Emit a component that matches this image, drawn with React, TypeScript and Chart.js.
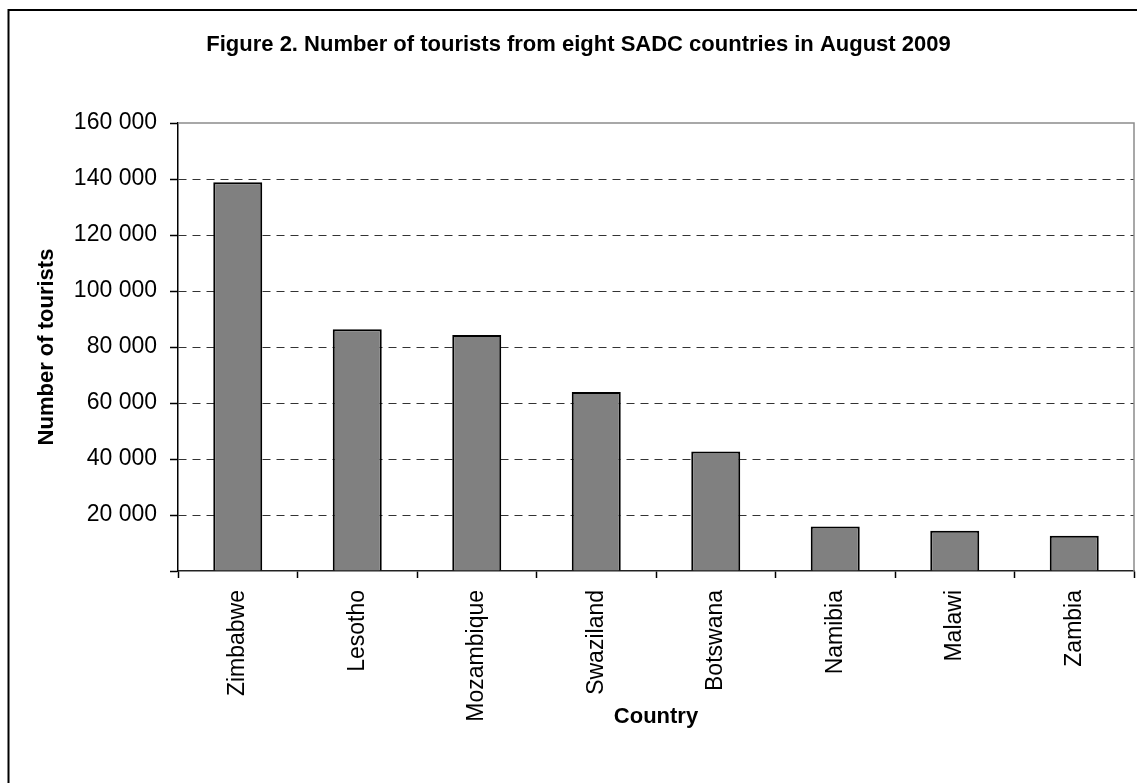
import React, { useEffect, useRef } from "react";
import { Chart, registerables } from "chart.js";

Chart.register(...registerables);

const titleText = "Figure 2. Number of tourists from eight SADC countries in August 2009";
const countries = ["Zimbabwe", "Lesotho", "Mozambique", "Swaziland", "Botswana", "Namibia", "Malawi", "Zambia"];
const tourists = [138800, 86300, 84300, 63900, 42700, 15900, 14400, 12600];
const yTitle = "Number of tourists";
const xTitle = "Country";
const yMax = 160000;
const yStep = 20000;

const FONT = "'Liberation Sans', Arial, sans-serif";

const frames = {
  id: "frames",
  beforeDraw(chart: any) {
    const { ctx, width, height } = chart;
    ctx.save();
    ctx.fillStyle = "#fff";
    ctx.fillRect(0, 0, width, height);
    ctx.strokeStyle = "#000";
    ctx.lineWidth = 2;
    ctx.beginPath();
    ctx.moveTo(8.5, height + 5);
    ctx.lineTo(8.5, 10);
    ctx.lineTo(width + 5, 10);
    ctx.stroke();
    ctx.restore();
  },
  afterDatasetsDraw(chart: any) {
    const { ctx, chartArea } = chart;
    ctx.save();
    ctx.strokeStyle = "#8c8c8c";
    ctx.lineWidth = 1.5;
    ctx.beginPath();
    ctx.moveTo(chartArea.left, chartArea.top);
    ctx.lineTo(chartArea.right, chartArea.top);
    ctx.lineTo(chartArea.right, chartArea.bottom);
    ctx.stroke();
    ctx.restore();
  },
};

function fmt(v: number) {
  if (v === 0) return "";
  return String(v).replace(/\B(?=(\d{3})+(?!\d))/g, " ");
}

export default function App() {
  const ref = useRef<HTMLCanvasElement | null>(null);
  useEffect(() => {
    const chart = new Chart(ref.current as HTMLCanvasElement, {
      type: "bar",
      data: {
        labels: countries,
        datasets: [
          {
            data: tourists,
            backgroundColor: "#808080",
            borderColor: "#000000",
            borderWidth: 2,
            barPercentage: 0.41,
            categoryPercentage: 1,
          },
        ],
      },
      options: {
        animation: false,
        responsive: true,
        maintainAspectRatio: false,
        layout: { padding: { left: 23, right: 3, top: 0, bottom: 0 } },
        plugins: {
          legend: { display: false },
          tooltip: { enabled: false },
          title: {
            display: true,
            text: titleText,
            color: "#000",
            font: { family: FONT, size: 22, weight: "bold", lineHeight: 1.2 },
            padding: { top: 31.3, bottom: 65.3 },
          },
        },
        scales: {
          x: {
            afterFit(scale: any) {
              scale.height = 212;
            },
            grid: {
              display: true,
              offset: true,
              drawOnChartArea: false,
              drawTicks: true,
              tickLength: 7,
              tickColor: "#000",
              tickWidth: 1.5,
            },
            border: { display: true, color: "#222", width: 1.5 },
            ticks: {
              color: "#000",
              font: { family: FONT, size: 23 },
              minRotation: 90,
              maxRotation: 90,
              padding: 12,
            },
            title: {
              display: true,
              text: xTitle,
              color: "#000",
              font: { family: FONT, size: 22, weight: "bold", lineHeight: 1.2 },
              padding: { top: 0, bottom: 52.8 },
            },
          },
          y: {
            min: 0,
            max: yMax,
            afterFit(scale: any) {
              scale.width = 155;
            },
            ticks: {
              stepSize: yStep,
              color: "#000",
              font: { family: FONT, size: 23 },
              padding: 13,
              callback: (v: any) => fmt(Number(v)),
            },
            grid: {
              color: (c: any) =>
                c.tick && (c.tick.value === 0 || c.tick.value === yMax) ? "rgba(0,0,0,0)" : "#333",
              lineWidth: 1,
              drawTicks: true,
              tickLength: 8,
              tickColor: "#000",
              tickWidth: 1.5,
              tickBorderDash: [],
            },
            border: { display: true, color: "#000", width: 1.5, dash: [8, 6] },
            title: {
              display: true,
              text: yTitle,
              color: "#000",
              font: { family: FONT, size: 22, weight: "bold", lineHeight: 1.2 },
              padding: { top: 10.8, bottom: 0 },
            },
          },
        },
      } as any,
      plugins: [frames],
    });
    return () => chart.destroy();
  }, []);

  return (
    <div
      style={{
        position: "fixed",
        left: 0,
        top: 0,
        width: 1137,
        height: 783,
        background: "#fff",
      }}
    >
      <canvas ref={ref} />
    </div>
  );
}
